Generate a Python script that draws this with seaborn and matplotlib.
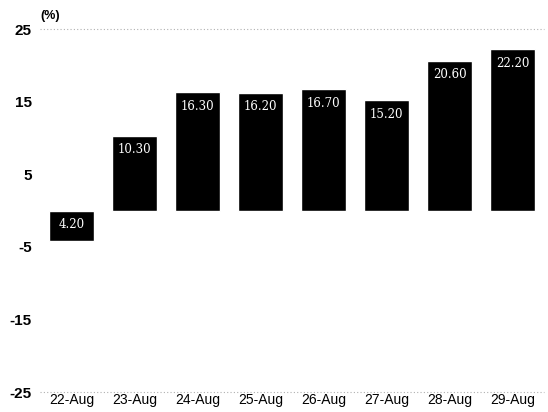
import matplotlib
matplotlib.use("Agg")
import matplotlib.pyplot as plt
import seaborn as sns
import pandas as pd

dates = ["22-Aug", "23-Aug", "24-Aug", "25-Aug", "26-Aug", "27-Aug", "28-Aug", "29-Aug"]
changes = [-4.20, 10.30, 16.30, 16.20, 16.70, 15.20, 20.60, 22.20]
y_ticks = [25, 15, 5, -5, -15, -25]

df = pd.DataFrame({"date": dates, "change": changes})

sns.set_theme(style="white")
plt.rcParams["font.family"] = ["Liberation Sans", "DejaVu Sans"]
plt.rcParams["text.color"] = "black"
plt.rcParams["xtick.color"] = "black"
plt.rcParams["ytick.color"] = "black"

fig = plt.figure(figsize=(5.48, 4.12), dpi=100)
ax = fig.add_axes([0.073, 0.0485, 0.9197, 0.8811])

sns.barplot(data=df, x="date", y="change", color="black", saturation=1,
            width=0.714, ax=ax)

ax.set_xlim(-0.5, len(dates) - 0.5)
ax.set_ylim(-25, 25)
ax.set_yticks(y_ticks)
ax.set_yticklabels([str(t) for t in y_ticks], fontsize=11, fontweight="bold")
ax.tick_params(axis="x", labelsize=10, pad=1, length=0, labelcolor="black")
ax.tick_params(axis="y", pad=6, length=0, labelcolor="black")
ax.set_xlabel("")
ax.set_ylabel("")
for s in ax.spines.values():
    s.set_visible(False)

for yv in (25, -25):
    ax.axhline(yv, color="#b0b0b0", lw=0.8, ls=(0, (1, 2)), zorder=0, clip_on=False)

# value labels just inside the upper edge of each bar
for i, v in enumerate(changes):
    top = max(v, 0)
    ax.annotate(f"{abs(v):.2f}", xy=(i, top), xytext=(0, -10),
                textcoords="offset points", ha="center", va="center",
                color="white", fontsize=8.5, family="DejaVu Serif")

fig.text(0.073, 0.962, "(%)", fontsize=9, fontweight="bold", ha="left", va="center")

fig.savefig("out.png", dpi=100, facecolor="white")
